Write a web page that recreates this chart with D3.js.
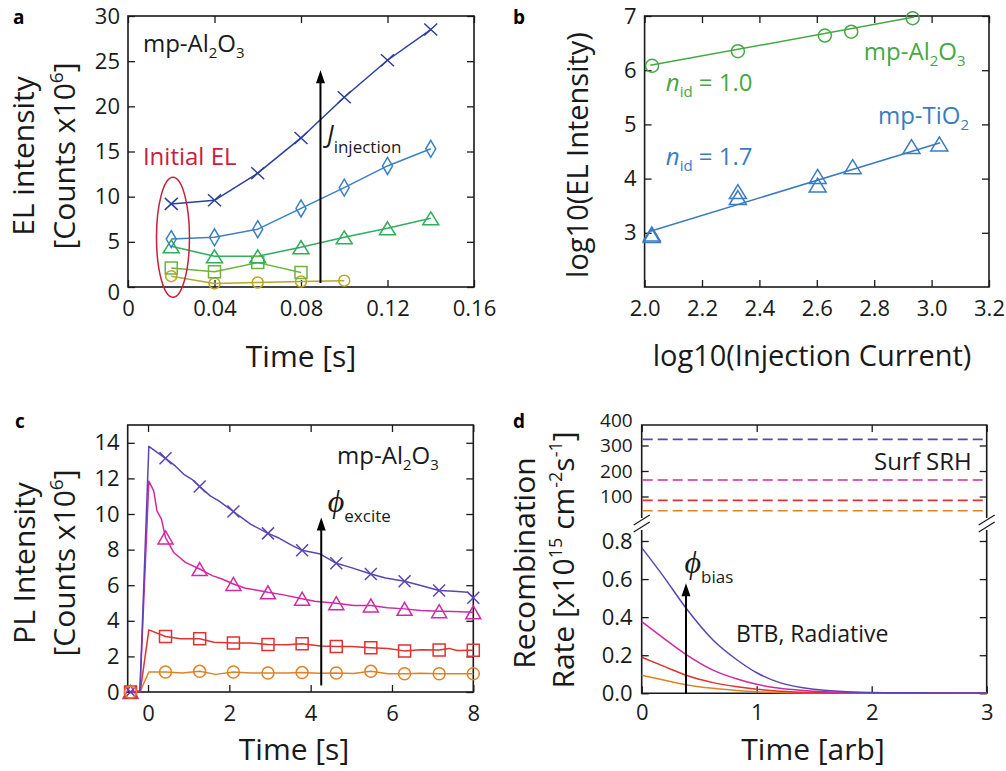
<!DOCTYPE html>
<html>
<head>
<meta charset="utf-8">
<script src="https://cdn.jsdelivr.net/npm/d3@7"></script>
<style>
  body { margin: 0; background: #fff; }
  svg { display: block; font-family: "Open Sans", "Noto Sans", sans-serif; }
</style>
</head>
<body>
<svg id="fig" width="1006" height="771"></svg>
<script>
// ---------- (a) EL intensity vs time, mp-Al2O3 ----------
const elTime = [0.02, 0.04, 0.06, 0.08, 0.10, 0.12, 0.14];
const elCross    = [9.2, 9.6, 12.6, 16.5, 21.0, 25.1, 28.5];
const elDiamond  = [5.3, 5.5, 6.4, 8.7, 11.0, 13.4, 15.3];
const elTriangle = [4.5, 3.4, 3.4, 4.4, 5.5, 6.5, 7.6];
const elSquare   = [2.1, 1.7, 2.7, 1.6];
const elCircle   = [1.2, 0.4, 0.5, 0.6, 0.7];
const elXTicks = [0, 0.04, 0.08, 0.12, 0.16];
const elXTickLabels = ["0", "0.04", "0.08", "0.12", "0.16"];
const elYTicks = [0, 5, 10, 15, 20, 25, 30];

// ---------- (b) log-log EL vs injection current ----------
const alCurrent = [2.026, 2.325, 2.628, 2.72, 2.934];
const alEL      = [6.08, 6.35, 6.64, 6.71, 6.96];
const alFitX = [2.02, 2.94];
const alFitY = [6.09, 6.98];
const tiCurrent = [2.025, 2.025, 2.325, 2.325, 2.603, 2.603, 2.725, 2.93, 3.027];
const tiEL      = [2.98, 2.95, 3.76, 3.65, 4.04, 3.88, 4.22, 4.59, 4.64];
const tiFitX = [2.02, 3.03];
const tiFitY = [3.03, 4.66];
const logXTicks = [2.0, 2.2, 2.4, 2.6, 2.8, 3.0, 3.2];
const logYTicks = [3, 4, 5, 6, 7];

// ---------- (c) PL transients ----------
const plMarkTime = [-0.43, 0.43, 1.27, 2.1, 2.95, 3.79, 4.63, 5.48, 6.31, 7.16, 8.0];
const plPurpleT = [-0.43, -0.2, 0.02, 0.43, 0.67, 0.88, 1.08, 1.27, 1.53, 1.74, 2.1, 2.32, 2.52, 2.95, 3.22, 3.55, 3.79, 4.24, 4.63, 4.98, 5.48, 5.84, 6.31, 6.71, 7.16, 7.53, 7.86, 8.0];
const plPurpleV = [0, 0, 13.8, 13.13, 12.7, 12.23, 11.95, 11.54, 11.02, 10.74, 10.14, 9.77, 9.43, 8.91, 8.65, 8.22, 7.96, 7.75, 7.23, 7.0, 6.63, 6.41, 6.22, 5.98, 5.7, 5.66, 5.6, 5.3];
const plPurpleMark = [0, 13.13, 11.54, 10.14, 8.91, 7.96, 7.23, 6.63, 6.22, 5.7, 5.3];
const plMagentaT = [-0.43, -0.2, 0.02, 0.14, 0.22, 0.33, 0.43, 0.63, 0.92, 1.27, 1.58, 1.82, 2.1, 2.4, 2.72, 2.95, 3.3, 3.79, 4.1, 4.63, 5.06, 5.48, 5.89, 6.31, 6.71, 7.16, 7.52, 8.0];
const plMagentaV = [0, 0, 11.85, 11.3, 10.18, 9.71, 8.68, 7.84, 7.28, 6.91, 6.54, 6.35, 6.07, 5.83, 5.70, 5.60, 5.47, 5.24, 5.1, 4.99, 4.86, 4.86, 4.73, 4.67, 4.58, 4.54, 4.52, 4.48];
const plMagentaMark = [0, 8.68, 6.91, 6.07, 5.60, 5.24, 4.99, 4.86, 4.67, 4.54, 4.48];
const plRedT = [-0.43, -0.19, 0.02, 0.43, 0.8, 1.27, 1.62, 2.1, 2.52, 2.95, 3.42, 3.79, 4.24, 4.63, 5.0, 5.48, 5.9, 6.31, 6.7, 7.16, 7.4, 7.6, 8.0];
const plRedV = [0, 0.05, 3.49, 3.12, 2.99, 2.99, 2.8, 2.75, 2.75, 2.67, 2.65, 2.71, 2.58, 2.56, 2.55, 2.49, 2.44, 2.31, 2.37, 2.36, 2.45, 2.33, 2.34];
const plRedMark = [0, 3.12, 2.99, 2.75, 2.67, 2.71, 2.56, 2.49, 2.31, 2.36, 2.34];
const plOrangeT = [-0.43, -0.19, 0.02, 0.43, 0.84, 1.27, 1.66, 2.1, 2.52, 2.95, 3.42, 3.79, 4.2, 4.63, 5.05, 5.48, 5.9, 6.31, 6.7, 7.16, 7.6, 8.0];
const plOrangeV = [0, 0.05, 1.12, 1.12, 1.07, 1.16, 0.99, 1.12, 1.07, 1.07, 1.07, 1.09, 1.05, 1.07, 1.04, 1.16, 1.03, 1.03, 1.05, 1.03, 1.03, 1.03];
const plOrangeMark = [0, 1.12, 1.16, 1.12, 1.07, 1.09, 1.07, 1.16, 1.03, 1.03, 1.03];
const plXTicks = [0, 2, 4, 6, 8];
const plYTicks = [0, 2, 4, 6, 8, 10, 12, 14];

// ---------- (d) simulated recombination rates ----------
const simTime = [0, 0.2, 0.38, 0.62, 0.83, 1.0, 1.2, 1.5, 1.9, 2.5, 3.0];
const btbPurple  = [0.765, 0.605, 0.452, 0.28, 0.175, 0.108, 0.056, 0.021, 0.006, 0.002, 0.001];
const btbMagenta = [0.376, 0.285, 0.206, 0.122, 0.075, 0.047, 0.026, 0.011, 0.003, 0.001, 0.0005];
const btbRed     = [0.189, 0.14, 0.096, 0.056, 0.034, 0.021, 0.011, 0.004, 0.001, 0.0003, 0];
const btbOrange  = [0.095, 0.068, 0.045, 0.026, 0.015, 0.008, 0.004, 0.0015, 0.0004, 0, 0];
const srhLevels  = [44, 85, 165, 324];      // orange, red, magenta, purple
const simXTicks = [0, 1, 2, 3];
const simLowTicks = [0, 0.2, 0.4, 0.6, 0.8];
const simHighTicks = [100, 200, 300, 400];

// ---------- colours ----------
const C = {
  ink: "#1a1a1a",
  cross: "#2b3f9f", diamond: "#3b80c4", tri: "#2fae5b", square: "#6cb43a", circle: "#b5a825",
  crimson: "#c8203a",
  green: "#45a845", blue: "#3a7cc0",
  purple: "#5b45b3", magenta: "#d02aa3", red: "#e0322f", orange: "#df8226"
};

const svg = d3.select("#fig");
const SERIF = '"Liberation Serif", "DejaVu Serif", serif';
const intFmt = d3.format("d");

// ---------- helpers ----------
const markerPath = {
  cross:    (w, h) => `M${-w/2},${-h/2}L${w/2},${h/2}M${-w/2},${h/2}L${w/2},${-h/2}`,
  diamond:  (w, h) => `M0,${-h/2}L${w/2},0L0,${h/2}L${-w/2},0Z`,
  triangle: (w, h) => `M0,${-h/2}L${w/2},${h/2}L${-w/2},${h/2}Z`,
  square:   (w, h) => `M${-w/2},${-h/2}h${w}v${h}h${-w}Z`,
  circle:   (w, h) => `M${w/2},0A${w/2},${h/2} 0 1,1 ${-w/2},0A${w/2},${h/2} 0 1,1 ${w/2},0Z`
};

function styleAxis(g) {
  g.attr("font-family", null).attr("font-size", null);
  g.select(".domain").remove();
  g.selectAll(".tick line").attr("stroke", C.ink).attr("stroke-width", 1.3);
  g.selectAll(".tick text").attr("fill", C.ink).style("font-size", "22px");
}

function addAxis(axis, tx, ty) {
  return svg.append("g").attr("transform", `translate(${tx},${ty})`).call(axis).call(styleAxis);
}

function line(xs, ys, x, y, color, curve) {
  const pts = xs.map((v, i) => [x(v), y(ys[i])]);
  svg.append("path")
    .attr("d", d3.line().curve(curve || d3.curveLinear)(pts))
    .attr("fill", "none").attr("stroke", color).attr("stroke-width", 1.5)
    .attr("stroke-linejoin", "round");
}

function markers(xs, ys, x, y, shape, w, h, color) {
  svg.append("g").selectAll("path").data(xs.map((v, i) => [v, ys[i]])).join("path")
    .attr("transform", d => `translate(${x(d[0])},${y(d[1])})`)
    .attr("d", markerPath[shape](w, h))
    .attr("fill", "none").attr("stroke", color).attr("stroke-width", 1.5);
}

// text made of runs; runs may be subscripts, superscripts or italic
function rich(x, y, parts, o) {
  const t = svg.append("text").attr("x", x).attr("y", y)
    .attr("fill", o.color || C.ink).style("font-size", o.size + "px")
    .attr("text-anchor", o.anchor || "start");
  if (o.rotate) t.attr("transform", `rotate(-90,${x},${y})`);
  let shift = 0;
  parts.forEach(p => {
    const s = t.append("tspan").text(p.t);
    const target = p.sub ? (o.subDy || 6) : p.sup ? -(o.supDy || 11) : 0;
    if (target !== shift) { s.attr("dy", target - shift); shift = target; }
    if (p.sub || p.sup) s.style("font-size", (p.size || o.small || Math.round(o.size * 0.62)) + "px");
    if (p.size && !(p.sub || p.sup)) s.style("font-size", p.size + "px");
    if (p.italic) s.style("font-style", "italic");
    if (p.family) s.style("font-family", p.family);
  });
  return t;
}

function arrow(x1, y1, x2, y2) {
  svg.append("line").attr("x1", x1).attr("y1", y1).attr("x2", x2).attr("y2", y2 + 8)
    .attr("stroke", "#000").attr("stroke-width", 2);
  svg.append("path").attr("d", `M${x2},${y2}L${x2 + 4.5},${y2 + 13}L${x2 - 4.5},${y2 + 13}Z`).attr("fill", "#000");
}

function box(x, y) {
  const [x0, x1] = x.range(), [y0, y1] = y.range();
  svg.append("rect").attr("x", x0).attr("y", y1).attr("width", x1 - x0).attr("height", y0 - y1)
    .attr("fill", "none").attr("stroke", C.ink).attr("stroke-width", 1.6);
}

function panelLabel(x, y, s) {
  svg.append("text").attr("x", x).attr("y", y).text(s)
    .style("font-size", "19px").style("font-weight", "700").attr("fill", "#000");
}

const TICK = 7;

// ================= panel a =================
{
  const x = d3.scaleLinear([0, 0.16], [128, 474]);
  const y = d3.scaleLinear([0, 30], [287, 16]);
  const fmt = (d, i) => elXTickLabels[i];
  addAxis(d3.axisBottom(x).tickValues(elXTicks).tickFormat(fmt).tickSize(-TICK).tickPadding(13), 0, 287);
  addAxis(d3.axisTop(x).tickValues(elXTicks).tickFormat("").tickSize(-TICK), 0, 16);
  const ya = addAxis(d3.axisLeft(y).tickValues(elYTicks).tickFormat(intFmt).tickSize(-TICK).tickPadding(8), 128, 0);
  ya.selectAll(".tick text").filter(d => d === 0).attr("dy", "0.55em");
  addAxis(d3.axisRight(y).tickValues(elYTicks).tickFormat("").tickSize(-TICK), 474, 0);
  box(x, y);

  line(elTime.slice(0, elCircle.length), elCircle, x, y, C.circle);
  line(elTime.slice(0, elSquare.length), elSquare, x, y, C.square);
  line(elTime, elTriangle, x, y, C.tri);
  line(elTime, elDiamond, x, y, C.diamond);
  line(elTime, elCross, x, y, C.cross);
  markers(elTime.slice(0, elCircle.length), elCircle, x, y, "circle", 11, 11, C.circle);
  markers(elTime.slice(0, elSquare.length), elSquare, x, y, "square", 12, 12, C.square);
  markers(elTime, elTriangle, x, y, "triangle", 16, 13, C.tri);
  markers(elTime, elDiamond, x, y, "diamond", 10, 17, C.diamond);
  markers(elTime, elCross, x, y, "cross", 13, 12, C.cross);

  // highlight of the first points
  svg.append("ellipse").attr("cx", x(0.0208)).attr("cy", y(5.5)).attr("rx", 16.5).attr("ry", 60)
    .attr("fill", "none").attr("stroke", C.crimson).attr("stroke-width", 1.5);
  svg.append("text").attr("x", x(0.0069)).attr("y", y(13.5)).text("Initial EL")
    .attr("fill", C.crimson).style("font-size", "24px");

  rich(x(0.0069), y(26.0), [{t: "mp-Al"}, {t: "2", sub: true}, {t: "O"}, {t: "3", sub: true}], {size: 24, small: 15});

  arrow(x(0.089), y(0.44), x(0.089), y(24.0));
  rich(x(0.092), y(15.94), [{t: "J", italic: true, size: 25}, {t: "injection", sub: true, size: 17}], {size: 25, subDy: 10});

  rich(34, 156, [{t: "EL intensity"}], {size: 30, rotate: true, anchor: "middle"});
  rich(75, 156, [{t: "[Counts x10"}, {t: "6", sup: true, size: 19}, {t: "]"}], {size: 30, rotate: true, anchor: "middle", supDy: 12});
  svg.append("text").attr("x", 301).attr("y", 367).attr("text-anchor", "middle").text("Time [s]")
    .attr("fill", C.ink).style("font-size", "30px");
  panelLabel(13, 24, "a");
}

// ================= panel b =================
{
  const x = d3.scaleLinear([2.0, 3.2], [644.6, 989]);
  const y = d3.scaleLinear([2, 7], [287, 16]);
  addAxis(d3.axisBottom(x).tickValues(logXTicks).tickFormat(d3.format(".1f")).tickSize(-TICK).tickPadding(13), 0, 287);
  addAxis(d3.axisTop(x).tickValues(logXTicks).tickFormat("").tickSize(-TICK), 0, 16);
  addAxis(d3.axisLeft(y).tickValues(logYTicks).tickFormat(intFmt).tickSize(-TICK).tickPadding(8), 644.6, 0);
  addAxis(d3.axisRight(y).tickValues(logYTicks).tickFormat("").tickSize(-TICK), 989, 0);
  box(x, y);

  line(alFitX, alFitY, x, y, C.green);
  line(tiFitX, tiFitY, x, y, C.blue);
  markers(alCurrent, alEL, x, y, "circle", 13, 13, C.green);
  markers(tiCurrent, tiEL, x, y, "triangle", 17, 14, C.blue);

  rich(x(2.764), y(6.19), [{t: "mp-Al"}, {t: "2", sub: true}, {t: "O"}, {t: "3", sub: true}], {size: 24, small: 15, color: C.green});
  rich(x(2.074), y(5.62), [{t: "n", italic: true}, {t: "id", sub: true}, {t: " = 1.0"}], {size: 24, small: 15, color: C.green});
  rich(x(2.813), y(5.0), [{t: "mp-TiO"}, {t: "2", sub: true}], {size: 24, small: 15, color: C.blue});
  rich(x(2.074), y(4.25), [{t: "n", italic: true}, {t: "id", sub: true}, {t: " = 1.7"}], {size: 24, small: 15, color: C.blue});

  rich(588, 155, [{t: "log10(EL Intensity)"}], {size: 29, rotate: true, anchor: "middle"});
  svg.append("text").attr("x", 812).attr("y", 366).attr("text-anchor", "middle").text("log10(Injection Current)")
    .attr("fill", C.ink).style("font-size", "29px");
  panelLabel(513, 24, "b");
}

// ================= panel c =================
{
  const x = d3.scaleLinear([-0.5, 8], [127.7, 473.3]);
  const y = d3.scaleLinear([0, 15], [692, 425]);
  addAxis(d3.axisBottom(x).tickValues(plXTicks).tickFormat(intFmt).tickSize(-TICK).tickPadding(13), 0, 692);
  addAxis(d3.axisTop(x).tickValues(plXTicks).tickFormat("").tickSize(-TICK), 0, 425);
  addAxis(d3.axisLeft(y).tickValues(plYTicks).tickFormat(intFmt).tickSize(-TICK).tickPadding(8), 127.7, 0);
  addAxis(d3.axisRight(y).tickValues(plYTicks).tickFormat("").tickSize(-TICK), 473.3, 0);
  box(x, y);

  line(plOrangeT, plOrangeV, x, y, C.orange);
  line(plRedT, plRedV, x, y, C.red);
  line(plMagentaT, plMagentaV, x, y, C.magenta);
  line(plPurpleT, plPurpleV, x, y, C.purple);
  markers(plMarkTime, plMagentaMark, x, y, "triangle", 15, 13, C.magenta);
  markers(plMarkTime, plPurpleMark, x, y, "cross", 12, 12, C.purple);
  markers(plMarkTime, plRedMark, x, y, "square", 12, 12, C.red);
  markers(plMarkTime, plOrangeMark, x, y, "circle", 12, 12, C.orange);

  rich(x(4.65), y(12.8), [{t: "mp-Al"}, {t: "2", sub: true}, {t: "O"}, {t: "3", sub: true}], {size: 24, small: 15});
  arrow(x(4.26), y(0.37), x(4.26), y(9.8));
  rich(x(4.42), y(10.1), [{t: "\u03D5", italic: true, family: SERIF, size: 32}, {t: "excite", sub: true, size: 17}], {size: 32, subDy: 10});

  rich(35, 563, [{t: "PL Intensity"}], {size: 30, rotate: true, anchor: "middle"});
  rich(75, 563, [{t: "[Counts x10"}, {t: "6", sup: true, size: 19}, {t: "]"}], {size: 30, rotate: true, anchor: "middle", supDy: 12});
  svg.append("text").attr("x", 294).attr("y", 760).attr("text-anchor", "middle").text("Time [s]")
    .attr("fill", C.ink).style("font-size", "30px");
  panelLabel(15, 428, "c");
}

// ================= panel d =================
{
  const x = d3.scaleLinear([0, 3], [641.7, 986.7]);
  const yLow = d3.scaleLinear([0, 0.8], [693.3, 541]);
  const yHigh = d3.scaleLinear([0, 400], [522, 420]);
  const top = 425, bottom = 693.3, gapTop = 518, gapBot = 530;
  const [x0, x1] = x.range();

  addAxis(d3.axisBottom(x).tickValues(simXTicks).tickFormat(intFmt).tickSize(-TICK).tickPadding(11), 0, bottom);
  addAxis(d3.axisTop(x).tickValues(simXTicks).tickFormat("").tickSize(-TICK), 0, top);
  addAxis(d3.axisLeft(yLow).tickValues(simLowTicks).tickFormat(d3.format(".1f")).tickSize(-TICK).tickPadding(9), x0, 0);
  addAxis(d3.axisRight(yLow).tickValues(simLowTicks).tickFormat("").tickSize(-TICK), x1, 0);
  const yh = addAxis(d3.axisLeft(yHigh).tickValues(simHighTicks).tickFormat(intFmt).tickSize(-TICK).tickPadding(9), x0, 0);
  yh.selectAll(".tick line").filter(d => yHigh(d) < top).remove();
  yh.selectAll(".tick text").style("font-size", "19px");
  addAxis(d3.axisRight(yHigh).tickValues(simHighTicks.filter(d => yHigh(d) > top)).tickFormat("").tickSize(-TICK), x1, 0);

  // broken frame
  const frame = svg.append("g").attr("stroke", C.ink).attr("stroke-width", 1.6).attr("fill", "none");
  frame.append("path").attr("d", `M${x0},${gapTop}V${top}H${x1}V${gapTop}`);
  frame.append("path").attr("d", `M${x0},${gapBot}V${bottom}H${x1}V${gapBot}`);
  const marks = svg.append("g").attr("stroke", C.ink).attr("stroke-width", 1.2);
  [x0, x1].forEach(cx => {
    [gapTop + 2, gapBot - 3].forEach(cy => {
      marks.append("line").attr("x1", cx - 8).attr("y1", cy + 5).attr("x2", cx + 8).attr("y2", cy - 5);
    });
  });

  const srhColors = [C.orange, C.red, C.magenta, C.purple];
  srhLevels.forEach((v, i) => {
    svg.append("line").attr("x1", x0 + 1).attr("x2", x1 - 1).attr("y1", yHigh(v)).attr("y2", yHigh(v))
      .attr("stroke", srhColors[i]).attr("stroke-width", 1.6).attr("stroke-dasharray", "10,5");
  });

  line(simTime, btbOrange, x, yLow, C.orange, d3.curveMonotoneX);
  line(simTime, btbRed, x, yLow, C.red, d3.curveMonotoneX);
  line(simTime, btbMagenta, x, yLow, C.magenta, d3.curveMonotoneX);
  line(simTime, btbPurple, x, yLow, C.purple, d3.curveMonotoneX);

  svg.append("text").attr("x", x(2.02)).attr("y", yHigh(204)).text("Surf SRH").attr("fill", C.ink).style("font-size", "24px");
  svg.append("text").attr("x", x(0.82)).attr("y", yLow(0.271)).text("BTB, Radiative").attr("fill", C.ink).style("font-size", "23px");
  arrow(x(0.385), yLow(0), x(0.385), yLow(0.578));
  rich(x(0.372), yLow(0.63), [{t: "\u03D5", italic: true, family: SERIF, size: 32}, {t: "bias", sub: true, size: 17}], {size: 32, subDy: 10});

  rich(535, 563, [{t: "Recombination"}], {size: 30, rotate: true, anchor: "middle"});
  rich(574, 560, [{t: "Rate [x10"}, {t: "15", sup: true, size: 18}, {t: " cm"}, {t: "-2", sup: true, size: 18}, {t: "s"}, {t: "-1", sup: true, size: 18}, {t: "]"}],
       {size: 30, rotate: true, anchor: "middle", supDy: 12});
  svg.append("text").attr("x", 813).attr("y", 760).attr("text-anchor", "middle").text("Time [arb]")
    .attr("fill", C.ink).style("font-size", "30px");
  panelLabel(513, 428, "d");
}
</script>
</body>
</html>
